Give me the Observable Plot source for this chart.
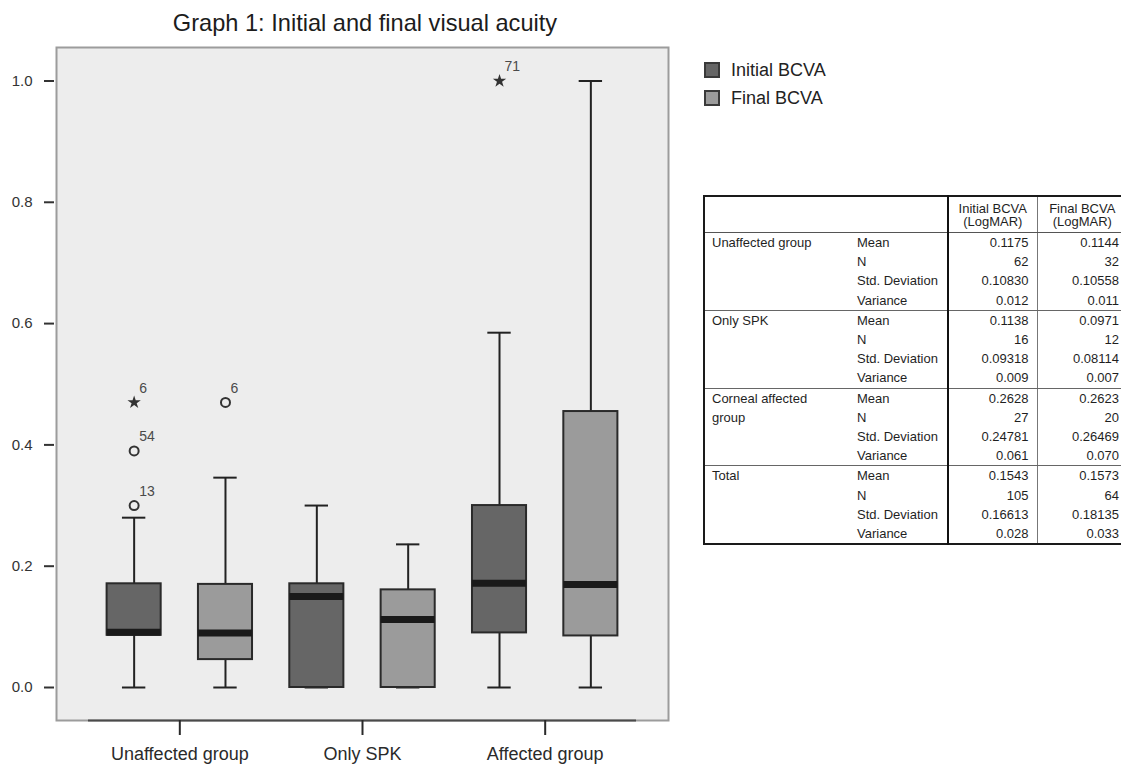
<!DOCTYPE html>
<html>
<head>
<meta charset="utf-8">
<script src="https://cdn.jsdelivr.net/npm/d3@7"></script>
<script src="https://cdn.jsdelivr.net/npm/@observablehq/plot@0.6"></script>
<style>
  html, body { margin: 0; padding: 0; background: #fff; }
  #root { position: relative; width: 1121px; height: 764px; overflow: hidden;
          font-family: "Liberation Sans", Arial, sans-serif; color: #1f1f1f; }
  #chart { position: absolute; left: 0; top: 0; }
  #title { position: absolute; left: 0; top: 11px; width: 730px; text-align: center;
           font-size: 23.6px; line-height: 24px; color: #1c1c1c; }
  .legend { position: absolute; left: 704px; height: 16px; display: flex; align-items: center;
            font-size: 18px; color: #222; white-space: nowrap; }
  .legend .sw { width: 16px; height: 16px; box-sizing: border-box; border: 2px solid #3a3a3a; margin-right: 11px; }
  table.stats { position: absolute; left: 703px; top: 195px; width: 423px; border-collapse: collapse;
                table-layout: fixed; font-size: 13px; color: #1f1f1f;
                border-top: 2px solid #1a1a1a; border-left: 2px solid #1a1a1a; border-bottom: 2px solid #1a1a1a; }
  table.stats td, table.stats th { padding: 0; height: 19.2px; line-height: 19.2px; white-space: nowrap;
                font-weight: normal; overflow: hidden; }
  table.stats th { height: 31px; line-height: 13px; vertical-align: bottom; padding-bottom: 4px;
                   text-align: center; border-bottom: 1px solid #555; white-space: pre-line; }
  table.stats td.grp { vertical-align: top; padding-left: 7px; white-space: pre-line; }
  table.stats td.stat { padding-left: 7px; }
  table.stats td.val { text-align: right; padding-right: 8px; }
  table.stats .c3 { border-left: 2px solid #111; }
  table.stats .c4 { border-left: 1px solid #777; }
  table.stats .gEnd { border-bottom: 1px solid #666; }
</style>
</head>
<body>
<div id="root">
  <div id="chart"></div>
  <div id="title"></div>
</div>
<script>
// ---------------- data ----------------
const chartTitle = "Graph 1: Initial and final visual acuity";
const groups = ["Unaffected group", "Only SPK", "Affected group"];
const series = ["Initial BCVA", "Final BCVA"];
const seriesColors = ["#666666", "#9b9b9b"];

// box statistics per group (Initial BCVA)
const initialLow    = [0.000, 0.000, 0.000];
const initialQ1     = [0.086, 0.000, 0.090];
const initialMedian = [0.091, 0.150, 0.172];
const initialQ3     = [0.171, 0.171, 0.300];
const initialHigh   = [0.280, 0.300, 0.585];
// box statistics per group (Final BCVA)
const finalLow    = [0.000, 0.000, 0.000];
const finalQ1     = [0.046, 0.000, 0.085];
const finalMedian = [0.090, 0.112, 0.170];
const finalQ3     = [0.170, 0.161, 0.455];
const finalHigh   = [0.346, 0.236, 1.000];

// outliers (o) and extremes (*)
const outlierGroup  = ["Unaffected group", "Unaffected group", "Unaffected group", "Unaffected group", "Affected group"];
const outlierSeries = ["Initial BCVA", "Initial BCVA", "Initial BCVA", "Final BCVA", "Initial BCVA"];
const outlierValue  = [0.30, 0.39, 0.47, 0.47, 1.00];
const outlierCase   = ["13", "54", "6", "6", "71"];
const outlierKind   = ["circle", "circle", "star", "circle", "star"];

const yTicks = [0.0, 0.2, 0.4, 0.6, 0.8, 1.0];
const yDomain = [-0.0544, 1.0552];

// table
const tableHeaders = ["Initial BCVA\n(LogMAR)", "Final BCVA\n(LogMAR)"];
const tableGroups = ["Unaffected group", "Only SPK", "Corneal affected\ngroup", "Total"];
const tableStats = ["Mean", "N", "Std. Deviation", "Variance"];
const tableInitial = [
  ["0.1175", "62", "0.10830", "0.012"],
  ["0.1138", "16", "0.09318", "0.009"],
  ["0.2628", "27", "0.24781", "0.061"],
  ["0.1543", "105", "0.16613", "0.028"]
];
const tableFinal = [
  ["0.1144", "32", "0.10558", "0.011"],
  ["0.0971", "12", "0.08114", "0.007"],
  ["0.2623", "20", "0.26469", "0.070"],
  ["0.1573", "64", "0.18135", "0.033"]
];

// ---------------- layout constants ----------------
const seriesOffset = [-0.25, 0.25];
const boxHalf = 0.148;
const capHalf = 0.064;

// ---------------- build records ----------------
const boxes = [];
groups.forEach((g, gi) => {
  boxes.push({group: g, series: series[0], pos: gi + seriesOffset[0],
    lo: initialLow[gi], q1: initialQ1[gi], med: initialMedian[gi], q3: initialQ3[gi], hi: initialHigh[gi]});
  boxes.push({group: g, series: series[1], pos: gi + seriesOffset[1],
    lo: finalLow[gi], q1: finalQ1[gi], med: finalMedian[gi], q3: finalQ3[gi], hi: finalHigh[gi]});
});
const outliers = outlierValue.map((v, i) => ({
  pos: groups.indexOf(outlierGroup[i]) + seriesOffset[series.indexOf(outlierSeries[i])],
  value: v, label: outlierCase[i], kind: outlierKind[i]
}));

const chart = Plot.plot({
  width: 700,
  height: 764,
  marginLeft: 56,
  marginRight: 32,
  marginTop: 47,
  marginBottom: 44,
  style: {fontFamily: '"Liberation Sans", Arial, sans-serif', background: "transparent", color: "#222", overflow: "visible"},
  x: {domain: [-0.675, 2.675]},
  y: {domain: yDomain},
  color: {type: "ordinal", domain: series, range: seriesColors},
  marks: [
    Plot.frame({fill: "#ededed", stroke: "#9c9c9c", strokeWidth: 2}),
    Plot.ruleX(boxes, {x: "pos", y1: "lo", y2: "hi", stroke: "#222", strokeWidth: 2}),
    Plot.ruleY(boxes, {y: "hi", x1: d => d.pos - capHalf, x2: d => d.pos + capHalf, stroke: "#222", strokeWidth: 2}),
    Plot.ruleY(boxes, {y: "lo", x1: d => d.pos - capHalf, x2: d => d.pos + capHalf, stroke: "#222", strokeWidth: 2}),
    Plot.rect(boxes, {x1: d => d.pos - boxHalf, x2: d => d.pos + boxHalf, y1: "q1", y2: "q3",
                      fill: "series", stroke: "#2a2a2a", strokeWidth: 2}),
    Plot.ruleY(boxes, {y: "med", x1: d => d.pos - boxHalf, x2: d => d.pos + boxHalf, stroke: "#1a1a1a", strokeWidth: 7}),
    Plot.ruleY([yDomain[0]], {y: d => d, x1: () => -0.5, x2: () => groups.length - 0.5, stroke: "#4a4a4a", strokeWidth: 2}),
    Plot.dot(outliers.filter(d => d.kind === "circle"), {x: "pos", y: "value", r: 4.5, fill: "none", stroke: "#333", strokeWidth: 2}),
    Plot.dot(outliers.filter(d => d.kind === "star"), {x: "pos", y: "value", r: 4.2, symbol: "star", fill: "#333", stroke: "none"}),
    Plot.text(outliers, {x: "pos", y: "value", text: "label", dx: 5, dy: -14, textAnchor: "start", fontSize: 14, fill: "#4a4a4a"}),
    Plot.axisY({ticks: yTicks, tickFormat: d3.format(".1f"), tickSize: 10, tickPadding: 12, dx: -2,
                fontSize: 15, strokeWidth: 2, color: "#333", label: null}),
    Plot.axisX({ticks: groups.map((g, i) => i), tickFormat: i => groups[i], tickSize: 15, tickPadding: 12,
                fontSize: 18, strokeWidth: 2, color: "#2a2a2a", label: null})
  ]
});
document.getElementById("chart").appendChild(chart);
document.getElementById("title").textContent = chartTitle;

// legend
const root = document.getElementById("root");
const legendTops = [62, 90];
series.forEach((s, i) => {
  const item = document.createElement("div");
  item.className = "legend";
  item.style.top = legendTops[i] + "px";
  const sw = document.createElement("span");
  sw.className = "sw";
  sw.style.background = seriesColors[i];
  item.appendChild(sw);
  item.appendChild(document.createTextNode(s));
  root.appendChild(item);
});

// table
const table = document.createElement("table");
table.className = "stats";
const colgroup = document.createElement("colgroup");
[146, 98, 89, 90].forEach(w => { const c = document.createElement("col"); c.style.width = w + "px"; colgroup.appendChild(c); });
table.appendChild(colgroup);
const head = document.createElement("tr");
head.innerHTML = '<th></th><th></th>';
tableHeaders.forEach((h, i) => { const th = document.createElement("th"); th.className = i === 0 ? "c3" : "c4"; th.textContent = h; head.appendChild(th); });
table.appendChild(head);
tableGroups.forEach((g, gi) => {
  tableStats.forEach((s, si) => {
    const tr = document.createElement("tr");
    const last = si === tableStats.length - 1;
    if (si === 0) {
      const td = document.createElement("td");
      td.rowSpan = tableStats.length;
      td.className = "grp gEnd";
      td.textContent = g;
      tr.appendChild(td);
    }
    const cells = [[s, "stat"], [tableInitial[gi][si], "val c3"], [tableFinal[gi][si], "val c4"]];
    cells.forEach(([t, cls]) => {
      const td = document.createElement("td");
      td.className = cls + (last ? " gEnd" : "");
      td.textContent = t;
      tr.appendChild(td);
    });
    table.appendChild(tr);
  });
});
root.appendChild(table);
</script>
</body>
</html>
